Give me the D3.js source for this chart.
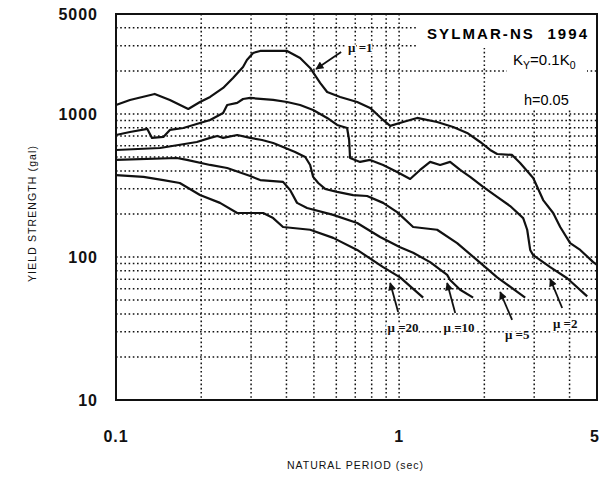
<!DOCTYPE html>
<html>
<head>
<meta charset="utf-8">
<script src="https://cdn.jsdelivr.net/npm/d3@7"></script>
<style>
  body { margin: 0; background: #fff; }
  .grid line { stroke: #111; stroke-width: 1.5; stroke-dasharray: 1.6,2.6; }
  .tick-label { font-family: "Liberation Sans", Arial, sans-serif; font-weight: bold; font-size: 16px; fill: #111; }
  .axis-title { font-family: "Liberation Sans", Arial, sans-serif; font-size: 10.5px; fill: #111; }
  .curve { fill: none; stroke: #111; stroke-width: 2.2; stroke-linejoin: round; }
  .mu-label { font-family: "Liberation Serif", serif; font-size: 13px; font-weight: bold; fill: #111;
              stroke: #fff; stroke-width: 3px; paint-order: stroke; }
</style>
</head>
<body>
<div id="chart"></div>
<script>
// yield strength spectra, [period (sec), strength (gal)]
var mu1 = [[0.100, 1156], [0.112, 1253], [0.137, 1380], [0.155, 1253], [0.180, 1084], [0.198, 1213],
    [0.215, 1315], [0.239, 1520], [0.259, 1785], [0.281, 2131], [0.290, 2386], [0.305, 2671],
    [0.323, 2758], [0.402, 2758], [0.447, 2464], [0.485, 2097], [0.526, 1648], [0.557, 1425],
    [0.619, 1315], [0.711, 1213], [0.790, 1102], [0.878, 908], [0.930, 825], [1.033, 879],
    [1.158, 938], [1.362, 879], [1.552, 811], [1.739, 737], [1.933, 637], [2.097, 560],
    [2.220, 525], [2.507, 517], [2.676, 454], [2.976, 357], [3.227, 250], [3.501, 203],
    [3.707, 162], [4.020, 125], [4.362, 112], [4.849, 92], [5.0, 88]];
var mu2 = [[0.100, 713], [0.112, 748], [0.129, 786], [0.134, 680], [0.147, 691], [0.155, 773],
    [0.173, 798], [0.198, 865], [0.215, 908], [0.239, 1016], [0.247, 1156], [0.268, 1194],
    [0.281, 1273], [0.298, 1294], [0.359, 1253], [0.402, 1213], [0.447, 1156], [0.497, 1067],
    [0.557, 938], [0.604, 838], [0.655, 798], [0.666, 658], [0.671, 492], [0.728, 462],
    [0.790, 477], [0.878, 440], [0.984, 393], [1.094, 351], [1.186, 406], [1.287, 462],
    [1.396, 440], [1.514, 462], [1.643, 406], [1.782, 363], [1.981, 309], [2.220, 263],
    [2.467, 227], [2.743, 187], [2.834, 155], [2.904, 112], [2.976, 103], [3.417, 85],
    [3.924, 71], [4.617, 53]];
var mu5 = [[0.100, 560], [0.143, 578], [0.193, 637], [0.215, 680], [0.228, 702], [0.239, 680],
    [0.268, 713], [0.298, 680], [0.328, 658], [0.359, 627], [0.389, 588], [0.429, 542],
    [0.466, 500], [0.485, 440], [0.497, 363], [0.518, 329], [0.548, 299], [0.604, 285],
    [0.688, 271], [0.771, 267], [0.878, 239], [0.984, 206], [1.121, 162], [1.362, 155],
    [1.603, 125], [1.886, 95], [2.220, 72], [2.788, 52]];
var mu10 = [[0.100, 477], [0.164, 492], [0.178, 477], [0.215, 440], [0.247, 419], [0.298, 368],
    [0.323, 345], [0.389, 335], [0.412, 294], [0.436, 239], [0.473, 220], [0.585, 197],
    [0.711, 173], [0.857, 138], [1.008, 117], [1.121, 107], [1.287, 92], [1.478, 75],
    [1.514, 69], [1.643, 59], [1.826, 52]];
var mu20 = [[0.100, 374], [0.125, 363], [0.147, 345], [0.168, 329], [0.198, 271], [0.233, 239],
    [0.268, 203], [0.331, 203], [0.359, 187], [0.389, 162], [0.485, 155], [0.585, 136],
    [0.711, 112], [0.878, 85], [1.008, 72], [1.216, 52]];

var xTicks = [0.1, 1, 5];
var yTicks = [10, 100, 1000, 5000];
var xGrid = [0.2, 0.3, 0.4, 0.5, 0.6, 0.7, 0.8, 0.9, 1, 2, 3, 4];
var yGrid = [20, 30, 40, 50, 60, 70, 80, 90, 100, 200, 300, 400, 500, 600, 700, 800, 900, 1000, 2000, 3000, 4000];

// arrow labels: name, label position, arrow tail, arrow tip
var muNames = ["\u03bc =1", "\u03bc =2", "\u03bc =5", "\u03bc =10", "\u03bc =20"];
var labelPos = [[0.660, 2893], [3.862, 34.0], [2.612, 28.5], [1.629, 31.9], [1.033, 31.9]];
var arrowTail = [[0.624, 2714], [3.767, 44.0], [2.507, 36.3], [1.578, 40.6], [0.992, 41.3]];
var arrowTip = [[0.509, 2064], [3.417, 70.2], [2.275, 56.9], [1.478, 65.8], [0.930, 65.8]];

var margin = { top: 14, right: 13, bottom: 77, left: 116 },
    width = 610 - margin.left - margin.right,
    height = 477 - margin.top - margin.bottom;

var x = d3.scaleLog().domain([0.1, 5]).range([0, width]);
var y = d3.scaleLog().domain([10, 5000]).range([height, 0]);

var svg = d3.select("#chart").append("svg")
    .attr("width", 610)
    .attr("height", 477)
    .append("g")
    .attr("transform", "translate(" + margin.left + "," + margin.top + ")");

var grid = svg.append("g").attr("class", "grid");
grid.selectAll(".vx").data(xGrid).enter().append("line")
    .attr("x1", function (d) { return x(d); })
    .attr("x2", function (d) { return x(d); })
    .attr("y1", 0).attr("y2", height);
grid.selectAll(".hy").data(yGrid).enter().append("line")
    .attr("x1", 0).attr("x2", width)
    .attr("y1", function (d) { return y(d); })
    .attr("y2", function (d) { return y(d); });

// blank area behind the legend text
svg.append("rect").attr("x", width - 180).attr("y", 1).attr("width", 179).attr("height", 33).attr("fill", "#fff");
svg.append("rect").attr("x", width - 90).attr("y", 1).attr("width", 80).attr("height", 95).attr("fill", "#fff");

var line = d3.line()
    .x(function (d) { return x(d[0]); })
    .y(function (d) { return y(d[1]); });

var curves = [mu1, mu2, mu5, mu10, mu20];
svg.selectAll(".curve").data(curves).enter().append("path")
    .attr("class", "curve")
    .attr("d", line);

// frame
svg.append("rect")
    .attr("width", width).attr("height", height)
    .attr("fill", "none").attr("stroke", "#111").attr("stroke-width", 2);

// tick labels
svg.selectAll(".ylab").data(yTicks).enter().append("text")
    .attr("class", "tick-label")
    .attr("x", -18)
    .attr("y", function (d) { return y(d) + 6; })
    .attr("text-anchor", "end")
    .style("letter-spacing", "1px")
    .text(function (d) { return d; });

svg.selectAll(".xlab").data(xTicks).enter().append("text")
    .attr("class", "tick-label")
    .attr("x", function (d) { return x(d) - (d == 5 ? 2 : 0); })
    .attr("y", height + 42)
    .attr("text-anchor", "middle")
    .style("letter-spacing", "1px")
    .text(function (d) { return d; });

svg.append("text")
    .attr("class", "axis-title")
    .attr("x", 239)
    .attr("y", height + 69)
    .attr("text-anchor", "middle")
    .attr("textLength", 136)
    .text("NATURAL PERIOD (sec)");

svg.append("text")
    .attr("class", "axis-title")
    .attr("transform", "translate(" + (-80) + "," + 200 + ") rotate(-90)")
    .attr("text-anchor", "middle")
    .attr("textLength", 136)
    .text("YIELD STRENGTH (gal)");

// legend text
svg.append("text")
    .attr("x", width - 10).attr("y", 25)
    .attr("text-anchor", "end")
    .attr("font-family", "Liberation Sans, Arial, sans-serif")
    .attr("font-weight", "bold").attr("font-size", 15)
    .attr("textLength", 160)
    .attr("xml:space", "preserve")
    .text("SYLMAR-NS  1994");

var ky = svg.append("text")
    .attr("x", width - 84).attr("y", 51)
    .attr("font-family", "Liberation Sans Narrow, Liberation Sans, sans-serif")
    .attr("font-size", 15);
ky.append("tspan").text("K");
ky.append("tspan").attr("font-size", 10.5).attr("dy", 4).text("Y");
ky.append("tspan").attr("dy", -4).text("=0.1K");
ky.append("tspan").attr("font-size", 10.5).attr("dy", 4).text("0");

svg.append("text")
    .attr("x", width - 73).attr("y", 91)
    .attr("font-family", "Liberation Sans Narrow, Liberation Sans, sans-serif")
    .attr("font-size", 14.5)
    .text("h=0.05");

// arrows
svg.append("defs").append("marker")
    .attr("id", "head")
    .attr("viewBox", "0 0 10 10")
    .attr("refX", 9).attr("refY", 5)
    .attr("markerWidth", 12).attr("markerHeight", 8)
    .attr("markerUnits", "userSpaceOnUse")
    .attr("orient", "auto")
    .append("path").attr("d", "M0,0 L10,5 L0,10 z").attr("fill", "#111");

svg.selectAll(".arrow").data(muNames).enter().append("line")
    .attr("class", "arrow")
    .attr("x1", function (d, i) { return x(arrowTail[i][0]); })
    .attr("y1", function (d, i) { return y(arrowTail[i][1]); })
    .attr("x2", function (d, i) { return x(arrowTip[i][0]); })
    .attr("y2", function (d, i) { return y(arrowTip[i][1]); })
    .attr("stroke", "#111").attr("stroke-width", 1.8)
    .attr("marker-end", "url(#head)");

svg.selectAll(".mu-label").data(muNames).enter().append("text")
    .attr("class", "mu-label")
    .attr("x", function (d, i) { return x(labelPos[i][0]); })
    .attr("y", function (d, i) { return y(labelPos[i][1]) + 4; })
    .attr("text-anchor", function (d, i) { return i == 0 ? "start" : "middle"; })
    .text(function (d) { return d; });
</script>
</body>
</html>
